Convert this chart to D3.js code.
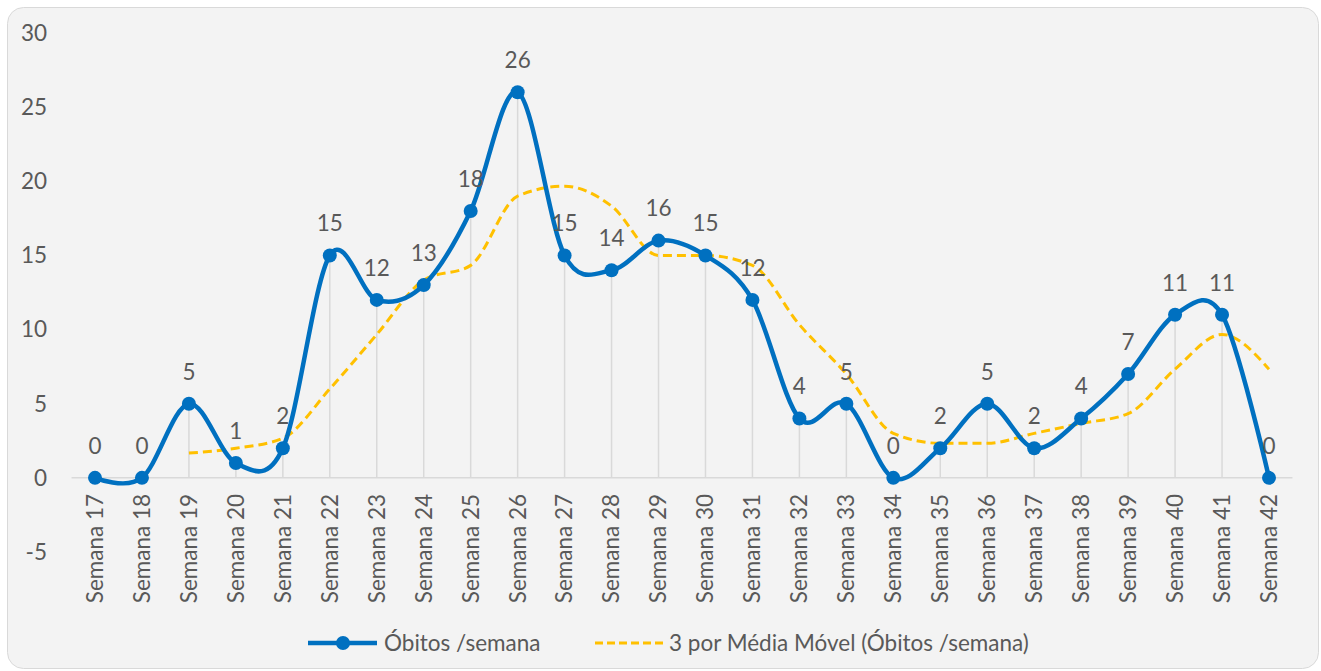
<!DOCTYPE html>
<html>
<head>
<meta charset="utf-8">
<script src="https://cdn.jsdelivr.net/npm/d3@7"></script>
<style>
  body { margin: 0; background: #fff; }
  svg text { font-family: Lato, "Open Sans", sans-serif; fill: #595959; }
</style>
</head>
<body>
<svg id="chart" width="1321" height="671"></svg>
<script>
// weeks on the x axis
var weeks = ["Semana 17", "Semana 18", "Semana 19", "Semana 20", "Semana 21", "Semana 22",
  "Semana 23", "Semana 24", "Semana 25", "Semana 26", "Semana 27", "Semana 28", "Semana 29",
  "Semana 30", "Semana 31", "Semana 32", "Semana 33", "Semana 34", "Semana 35", "Semana 36",
  "Semana 37", "Semana 38", "Semana 39", "Semana 40", "Semana 41", "Semana 42"];

// deaths per week
var obitos = [0, 0, 5, 1, 2, 15, 12, 13, 18, 26, 15, 14, 16, 15, 12, 4, 5, 0, 2, 5, 2, 4, 7, 11, 11, 0];

// 3-period moving average (starts at Semana 19)
var mediaMovel = [null, null, 1.67, 2, 2.67, 6, 9.67, 13.33, 14.33, 19, 19.67, 18.33, 15, 15,
  14.33, 10.33, 7, 3, 2.33, 2.33, 3, 3.67, 4.33, 7.33, 9.67, 7.33];

var yTicks = [-5, 0, 5, 10, 15, 20, 25, 30];

var legendLabels = ["Óbitos /semana", "3 por Média Móvel (Óbitos /semana)"];

var svg = d3.select("#chart");
var blue = "#0070c0", gold = "#ffc000";
var fs = "22.5px";

// panel background
svg.append("rect")
  .attr("x", 7.5).attr("y", 7.5)
  .attr("width", 1311).attr("height", 661)
  .attr("rx", 16)
  .attr("fill", "#f3f3f3")
  .attr("stroke", "#d9d9d9");

var x = d3.scalePoint()
  .domain(weeks)
  .range([95, 1269]);

var y = d3.scaleLinear()
  .domain([-5, 30])
  .range([552, 33]);

var step = x.step();

// y tick labels (no gridlines in the original)
svg.append("g")
  .selectAll("text")
  .data(yTicks)
  .enter().append("text")
  .attr("x", 47)
  .attr("y", function(d) { return y(d); })
  .attr("dy", "0.35em")
  .attr("text-anchor", "end")
  .style("font-size", fs)
  .text(function(d) { return d; });

// zero axis line
svg.append("line")
  .attr("x1", x(weeks[0]) - step / 2)
  .attr("x2", x(weeks[weeks.length - 1]) + step / 2)
  .attr("y1", y(0)).attr("y2", y(0))
  .attr("stroke", "#d9d9d9")
  .attr("stroke-width", 1.5);

// drop lines
svg.append("g")
  .selectAll("line")
  .data(obitos)
  .enter().append("line")
  .attr("x1", function(d, i) { return x(weeks[i]); })
  .attr("x2", function(d, i) { return x(weeks[i]); })
  .attr("y1", function(d) { return y(d); })
  .attr("y2", y(0))
  .attr("stroke", "#d9d9d9")
  .attr("stroke-width", 1.5);

// x labels, rotated
svg.append("g")
  .selectAll("text")
  .data(weeks)
  .enter().append("text")
  .attr("transform", function(d) { return "translate(" + x(d) + "," + (y(0) + 16) + ") rotate(-90)"; })
  .attr("dy", "0.35em")
  .attr("text-anchor", "end")
  .style("font-size", fs)
  .text(function(d) { return d; });

// moving average line
var maLine = d3.line()
  .defined(function(d) { return d != null; })
  .x(function(d, i) { return x(weeks[i]); })
  .y(function(d) { return y(d); })
  .curve(d3.curveMonotoneX);

svg.append("path")
  .datum(mediaMovel)
  .attr("d", maLine)
  .attr("fill", "none")
  .attr("stroke", gold)
  .attr("stroke-width", 3)
  .attr("stroke-dasharray", "9,5");

// main series, Excel-like smoothing
var line = d3.line()
  .x(function(d, i) { return x(weeks[i]); })
  .y(function(d) { return y(d); })
  .curve(d3.curveCardinal.tension(0));

svg.append("path")
  .datum(obitos)
  .attr("d", line)
  .attr("fill", "none")
  .attr("stroke", blue)
  .attr("stroke-width", 4.5)
  .attr("stroke-linejoin", "round");

svg.append("g")
  .selectAll("circle")
  .data(obitos)
  .enter().append("circle")
  .attr("cx", function(d, i) { return x(weeks[i]); })
  .attr("cy", function(d) { return y(d); })
  .attr("r", 7)
  .attr("fill", blue);

// data labels
svg.append("g")
  .selectAll("text")
  .data(obitos)
  .enter().append("text")
  .attr("x", function(d, i) { return x(weeks[i]); })
  .attr("y", function(d) { return y(d) - 32; })
  .attr("dy", "0.35em")
  .attr("text-anchor", "middle")
  .style("font-size", fs)
  .text(function(d) { return d; });

// legend
var leg = svg.append("g").attr("transform", "translate(0,643)");
leg.append("line")
  .attr("x1", 308).attr("x2", 377)
  .attr("stroke", blue).attr("stroke-width", 4.5);
leg.append("circle")
  .attr("cx", 343).attr("r", 7).attr("fill", blue);
leg.append("text")
  .attr("x", 384).attr("dy", "0.35em")
  .style("font-size", fs)
  .text(legendLabels[0]);
leg.append("line")
  .attr("x1", 595).attr("x2", 665)
  .attr("stroke", gold).attr("stroke-width", 3)
  .attr("stroke-dasharray", "8,4");
leg.append("text")
  .attr("x", 669).attr("dy", "0.35em")
  .style("font-size", fs)
  .text(legendLabels[1]);
</script>
</body>
</html>
